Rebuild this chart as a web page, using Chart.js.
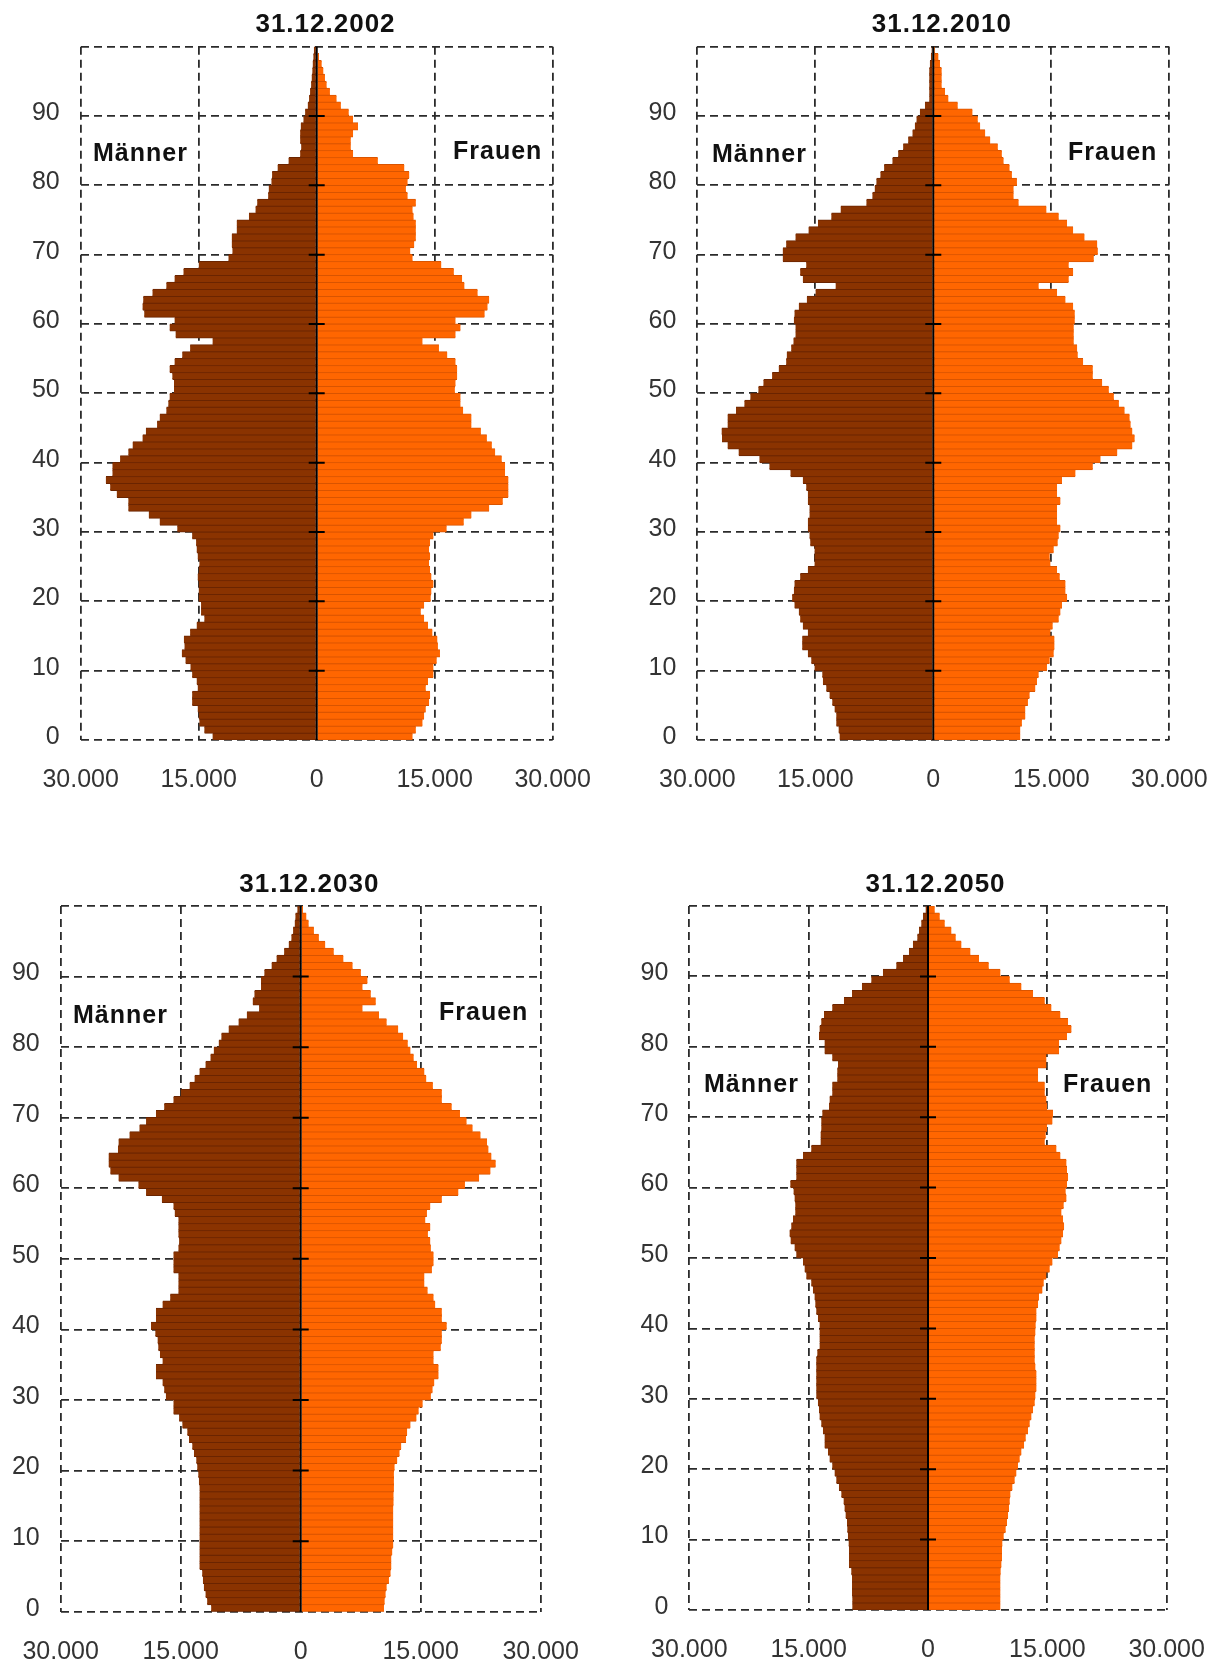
<!DOCTYPE html>
<html lang="de">
<head>
<meta charset="utf-8">
<title>Bevölkerungspyramiden</title>
<script src="https://cdn.jsdelivr.net/npm/chart.js@4.4.1/dist/chart.umd.min.js"></script>
<style>
    html, body { margin: 0; padding: 0; background: #fff; }
    body { position: relative; width: 1221px; height: 1663px; overflow: hidden; }
    .pyramid { position: absolute; }
    .pyramid canvas { display: block; }
</style>
</head>
<body>
<div class="pyramid" id="box2002"><canvas id="chart2002"></canvas></div>
<div class="pyramid" id="box2010"><canvas id="chart2010"></canvas></div>
<div class="pyramid" id="box2030"><canvas id="chart2030"></canvas></div>
<div class="pyramid" id="box2050"><canvas id="chart2050"></canvas></div>
<script>
// Alter 0..99, ein Balken je Jahrgang
const ages = [
    0, 1, 2, 3, 4, 5, 6, 7, 8, 9,
    10, 11, 12, 13, 14, 15, 16, 17, 18, 19,
    20, 21, 22, 23, 24, 25, 26, 27, 28, 29,
    30, 31, 32, 33, 34, 35, 36, 37, 38, 39,
    40, 41, 42, 43, 44, 45, 46, 47, 48, 49,
    50, 51, 52, 53, 54, 55, 56, 57, 58, 59,
    60, 61, 62, 63, 64, 65, 66, 67, 68, 69,
    70, 71, 72, 73, 74, 75, 76, 77, 78, 79,
    80, 81, 82, 83, 84, 85, 86, 87, 88, 89,
    90, 91, 92, 93, 94, 95, 96, 97, 98, 99
];

const xTicks = [-30000, -15000, 0, 15000, 30000];
const yTicks = [0, 10, 20, 30, 40, 50, 60, 70, 80, 90, 100];

// 31.12.2002
const men2002 = [
    13230, 14280, 14910, 14990, 15120, 15830, 15830, 15120, 15250, 15830,
    16040, 16670, 17140, 16800, 16880, 16090, 15250, 14280, 14700, 14700,
    14990, 14990, 14990, 15120, 14990, 14910, 15120, 15250, 15330, 15830,
    17720, 19950, 21340, 23940, 23940, 25410, 26250, 26800, 25960, 25960,
    24990, 23940, 23390, 22130, 21710, 20290, 19950, 19110, 18860, 18690,
    18140, 18140, 18350, 18690, 18060, 17090, 16090, 13230, 17930, 18690,
    18060, 21920, 22130, 22050, 20870, 19110, 18060, 16930, 14990, 11210,
    10710, 10790, 10790, 10160, 10160, 8610, 7770, 7560, 6170, 6090,
    5750, 5670, 4960, 3570, 2100, 1970, 2100, 2100, 2020, 1680,
    1470, 1130, 970, 840, 710, 630, 550, 500, 420, 350
];
const women2002 = [
    12180, 12600, 13440, 13650, 13860, 14280, 14410, 13860, 14150, 14830,
    14830, 15250, 15670, 15410, 15330, 14700, 14150, 13650, 13230, 13650,
    14490, 14570, 14830, 14570, 14410, 14280, 14410, 14280, 14410, 14830,
    16510, 18690, 19660, 21920, 23650, 24360, 24360, 24360, 23940, 23940,
    23520, 22680, 22260, 21630, 20870, 19660, 19660, 18610, 18270, 18270,
    17560, 17640, 17850, 17850, 17640, 16590, 15540, 13440, 17640, 18270,
    17640, 21340, 21710, 21920, 20450, 18770, 18480, 17430, 15830, 12180,
    11890, 12390, 12600, 12600, 12600, 12310, 12180, 12600, 11550, 11340,
    11550, 11760, 11130, 7770, 4620, 4330, 4330, 4620, 5250, 4620,
    4070, 3070, 2520, 1680, 1260, 1050, 840, 630, 290, 130
];

// 31.12.2010
const men2010 = [
    11900, 12030, 12330, 12330, 12540, 12840, 13180, 13600, 14030, 14110,
    15090, 15510, 15940, 16660, 16660, 15940, 16580, 16920, 17090, 17640,
    17940, 17720, 17640, 16920, 15940, 15090, 15090, 15090, 15640, 15730,
    15940, 15940, 15730, 15730, 15940, 15940, 16150, 16580, 18150, 20830,
    22100, 24740, 26140, 26860, 26900, 26140, 26140, 25080, 24010, 23250,
    22230, 21590, 20490, 19640, 18700, 18620, 18060, 17770, 17510, 17510,
    17720, 17640, 17090, 16070, 14960, 12410, 16580, 16920, 16150, 19130,
    19130, 18700, 17510, 15850, 14660, 12960, 11770, 8500, 7740, 7440,
    7230, 6720, 6250, 5190, 4460, 3830, 3190, 2640, 2340, 2130,
    1700, 1060, 510, 510, 510, 510, 510, 430, 300, 210
];
const women2010 = [
    11050, 11050, 11260, 11690, 11690, 12030, 12240, 12960, 13180, 13390,
    14450, 14790, 15300, 15390, 15390, 14880, 15170, 15940, 16150, 16360,
    17000, 16790, 16790, 16070, 15730, 14880, 14790, 15300, 15810, 15940,
    16150, 15730, 15730, 15730, 16150, 15730, 15730, 16360, 18060, 20270,
    21250, 23380, 25290, 25590, 25290, 25080, 24950, 24310, 23590, 22950,
    22310, 21460, 20270, 20270, 19040, 18360, 18280, 17850, 17850, 17850,
    17980, 17980, 17770, 16790, 15730, 13390, 17210, 17770, 17210, 20400,
    20910, 20830, 19210, 17770, 17000, 15940, 14370, 10840, 10200, 10200,
    10630, 9990, 9690, 8930, 8710, 8200, 7230, 6590, 5950, 5650,
    4970, 3100, 1910, 1490, 1060, 1060, 1060, 850, 640, 210
];

// 31.12.2030
const men2030 = [
    11190, 11690, 11890, 12100, 12220, 12310, 12640, 12640, 12640, 12640,
    12640, 12640, 12640, 12640, 12640, 12640, 12640, 12640, 12720, 12800,
    12930, 13050, 13340, 13550, 13960, 14170, 14790, 15200, 15900, 15900,
    16850, 17060, 17260, 18090, 18090, 17260, 17590, 17800, 17880, 18170,
    18710, 18090, 18090, 17260, 16310, 15280, 15280, 15280, 15900, 15900,
    15900, 15280, 15200, 15280, 15280, 15280, 15740, 15900, 17350, 19330,
    20280, 22760, 23790, 24000, 24000, 22840, 22760, 21390, 20150, 19330,
    18090, 17060, 15900, 14990, 13880, 13260, 12640, 11890, 11270, 10860,
    10240, 9910, 9000, 7760, 6730, 5200, 5990, 5780, 4960, 4960,
    4540, 3630, 3010, 2070, 1490, 1160, 950, 740, 660, 410
];
const women2030 = [
    10410, 10490, 10610, 10740, 11030, 11230, 11320, 11320, 11440, 11560,
    11560, 11560, 11560, 11560, 11560, 11600, 11600, 11650, 11650, 11650,
    11730, 12060, 12350, 12560, 13170, 13300, 13710, 14460, 14740, 15240,
    16270, 16480, 16690, 17220, 17220, 16600, 16600, 17510, 17640, 17640,
    18250, 17640, 17640, 16810, 16600, 15860, 15450, 15450, 16400, 16600,
    16600, 16270, 16190, 15900, 16190, 15570, 15780, 16190, 17640, 19700,
    20530, 22300, 23710, 24370, 23830, 23460, 23290, 22470, 21480, 20730,
    19910, 18870, 17640, 17640, 16520, 15690, 15450, 14540, 14120, 13710,
    13380, 12800, 12180, 10740, 9790, 7720, 9380, 8760, 7720, 8340,
    7520, 6480, 5330, 4130, 3060, 2270, 1650, 990, 700, 290
];

// 31.12.2050
const men2050 = [
    9510, 9510, 9550, 9550, 9550, 9640, 9930, 9930, 9930, 9970,
    10060, 10140, 10180, 10350, 10480, 10600, 10890, 11190, 11520, 11730,
    12030, 12360, 12570, 12990, 12990, 13200, 13410, 13620, 13700, 13830,
    14040, 14040, 14040, 14040, 14040, 14040, 13910, 13620, 13620, 13620,
    13620, 13830, 14040, 14160, 14250, 14460, 14670, 15290, 15500, 15710,
    16550, 16760, 17260, 17390, 17180, 16970, 16680, 16680, 16760, 16890,
    17300, 16550, 16550, 16550, 15710, 14670, 13490, 13490, 13410, 13410,
    13280, 12440, 12360, 12030, 12030, 11400, 11400, 11310, 12030, 12990,
    12990, 13700, 13620, 13410, 13070, 12030, 10560, 9550, 8300, 7120,
    5660, 3980, 3140, 2390, 1890, 1340, 1130, 840, 630, 290
];
const women2050 = [
    9090, 9090, 9090, 9090, 9090, 9130, 9220, 9300, 9300, 9340,
    9510, 9760, 9930, 10060, 10180, 10270, 10350, 10600, 10890, 11100,
    11310, 11520, 11730, 12070, 12280, 12570, 12780, 12990, 13200, 13410,
    13490, 13620, 13620, 13620, 13490, 13410, 13410, 13410, 13410, 13490,
    13530, 13620, 13620, 13830, 13950, 14370, 14540, 14870, 15290, 15630,
    16340, 16550, 16760, 16970, 17100, 16970, 16760, 17050, 17390, 17300,
    17470, 17600, 17470, 17390, 16630, 16130, 14670, 14790, 14960, 15630,
    15710, 14960, 14870, 14670, 14670, 13830, 13830, 14870, 14870, 16470,
    16470, 17470, 18020, 17600, 16630, 15500, 14670, 13200, 11730, 10270,
    9090, 7630, 6410, 5320, 4190, 3480, 2930, 2100, 1470, 840
];

// Seitenlayout (Seitenkoordinaten in px)
const panels = [
    { id: '2002', title: '31.12.2002', men: men2002, women: women2002,
      box: { left: 0, top: 0, width: 610, height: 810 },
      area: { left: 80.7, right: 552.7, top: 46.7, bottom: 740 },
      titleAt: [325.5, 32.3], menAt: [93, 161], womenAt: [453, 159] },
    { id: '2010', title: '31.12.2010', men: men2010, women: women2010,
      box: { left: 610, top: 0, width: 611, height: 810 },
      area: { left: 697.3, right: 1169.3, top: 46.7, bottom: 740 },
      titleAt: [941.8, 32.3], menAt: [712, 161.5], womenAt: [1068, 160] },
    { id: '2030', title: '31.12.2030', men: men2030, women: women2030,
      box: { left: 0, top: 820, width: 610, height: 843 },
      area: { left: 60.7, right: 540.7, top: 906, bottom: 1611.7 },
      titleAt: [309.3, 891.7], menAt: [73, 1023], womenAt: [439, 1020] },
    { id: '2050', title: '31.12.2050', men: men2050, women: women2050,
      box: { left: 610, top: 820, width: 611, height: 843 },
      area: { left: 689.3, right: 1166.7, top: 906, bottom: 1610 },
      titleAt: [935.5, 891.7], menAt: [704, 1091.5], womenAt: [1063, 1091.5] }
];

const Y_AXIS_WIDTH = 60;
const X_AXIS_HEIGHT = 51;
const FONT = "'Liberation Sans', Arial, Helvetica, sans-serif";
const GRID_COLOR = '#2b2b2b';

Chart.defaults.font.family = FONT;

function formatThousands(v) {
    return String(Math.abs(v)).replace(/\B(?=(\d{3})+(?!\d))/g, '.');
}

// Mittellinie, kurze Striche und Beschriftungen
const pyramidDecor = {
    id: 'pyramidDecor',
    afterDatasetsDraw(chart) {
        const { ctx, chartArea, scales } = chart;
        const x0 = scales.x.getPixelForValue(0);
        ctx.save();
        ctx.strokeStyle = '#000';
        ctx.lineWidth = 2;
        ctx.beginPath();
        ctx.moveTo(x0, chartArea.top);
        ctx.lineTo(x0, chartArea.bottom);
        scales.y.ticks.forEach(t => {
            if (t.value <= 0 || t.value >= 100) return;
            const y = scales.y.getPixelForValue(t.value);
            ctx.moveTo(x0 - 8, y);
            ctx.lineTo(x0 + 8, y);
        });
        ctx.stroke();
        ctx.restore();
    },
    afterDraw(chart, args, opts) {
        const ctx = chart.ctx;
        ctx.save();
        ctx.fillStyle = '#111';
        ctx.textBaseline = 'alphabetic';
        ctx.letterSpacing = '1px';

        ctx.font = 'bold 26px ' + FONT;
        ctx.textAlign = 'center';
        ctx.fillText(opts.title, opts.titleAt[0], opts.titleAt[1]);

        ctx.font = 'bold 25px ' + FONT;
        ctx.textAlign = 'left';
        ctx.fillText('Männer', opts.menAt[0], opts.menAt[1]);
        ctx.fillText('Frauen', opts.womenAt[0], opts.womenAt[1]);
        ctx.restore();
    }
};

function buildPyramid(p) {
    const box = document.getElementById('box' + p.id);
    box.style.left = p.box.left + 'px';
    box.style.top = p.box.top + 'px';

    const canvas = document.getElementById('chart' + p.id);
    canvas.width = p.box.width;
    canvas.height = p.box.height;
    canvas.style.width = p.box.width + 'px';
    canvas.style.height = p.box.height + 'px';

    const toLocal = pt => [pt[0] - p.box.left, pt[1] - p.box.top];

    const barStyle = {
        stack: 'pyramid',
        categoryPercentage: 1,
        barPercentage: 1,
        inflateAmount: 0.6,
        borderWidth: { top: 1, bottom: 1, left: 0, right: 0 },
        borderSkipped: false
    };

    const gridX = {
        color: ctx => (ctx.tick && ctx.tick.value === 0) ? 'rgba(0,0,0,0)' : GRID_COLOR,
        lineWidth: 1.8,
        drawTicks: false,
        offset: false
    };
    const gridY = {
        color: GRID_COLOR,
        lineWidth: 1.8,
        drawTicks: false,
        offset: false
    };

    return new Chart(canvas, {
        type: 'bar',
        data: {
            datasets: [
                Object.assign({
                    label: 'Männer',
                    data: ages.map((a, i) => ({ x: -p.men[i], y: a + 0.5 })),
                    backgroundColor: '#8a3300',
                    borderColor: '#6a2400'
                }, barStyle),
                Object.assign({
                    label: 'Frauen',
                    data: ages.map((a, i) => ({ x: p.women[i], y: a + 0.5 })),
                    backgroundColor: '#ff6600',
                    borderColor: '#d95400'
                }, barStyle)
            ]
        },
        options: {
            indexAxis: 'y',
            responsive: false,
            animation: false,
            layout: {
                padding: {
                    left: p.area.left - p.box.left - Y_AXIS_WIDTH,
                    right: p.box.left + p.box.width - p.area.right,
                    top: p.area.top - p.box.top,
                    bottom: Math.max(0, p.box.top + p.box.height - p.area.bottom - X_AXIS_HEIGHT)
                }
            },
            scales: {
                x: {
                    type: 'linear',
                    min: -30000,
                    max: 30000,
                    stacked: true,
                    offset: false,
                    afterBuildTicks: s => { s.ticks = xTicks.map(v => ({ value: v })); },
                    afterFit: s => { s.height = X_AXIS_HEIGHT; s.paddingLeft = 0; s.paddingRight = 0; },
                    grid: gridX,
                    border: { display: false, dash: [8, 5] },
                    ticks: {
                        autoSkip: false,
                        maxRotation: 0,
                        padding: 25,
                        color: '#333',
                        font: { size: 25 },
                        callback: v => formatThousands(v)
                    }
                },
                y: {
                    type: 'linear',
                    min: 0,
                    max: 100,
                    stacked: true,
                    offset: false,
                    afterBuildTicks: s => { s.ticks = yTicks.map(v => ({ value: v })); },
                    afterFit: s => { s.width = Y_AXIS_WIDTH; s.paddingTop = 0; s.paddingBottom = 0; },
                    grid: gridY,
                    border: { display: false, dash: [8, 5] },
                    ticks: {
                        autoSkip: false,
                        padding: 21,
                        labelOffset: -3,
                        color: '#333',
                        font: { size: 25 },
                        callback: v => (v === 100 ? '' : String(v))
                    }
                }
            },
            plugins: {
                legend: { display: false },
                tooltip: { enabled: false },
                pyramidDecor: {
                    title: p.title,
                    titleAt: toLocal(p.titleAt),
                    menAt: toLocal(p.menAt),
                    womenAt: toLocal(p.womenAt)
                }
            }
        },
        plugins: [pyramidDecor]
    });
}

const charts = panels.map(buildPyramid);
</script>
</body>
</html>
